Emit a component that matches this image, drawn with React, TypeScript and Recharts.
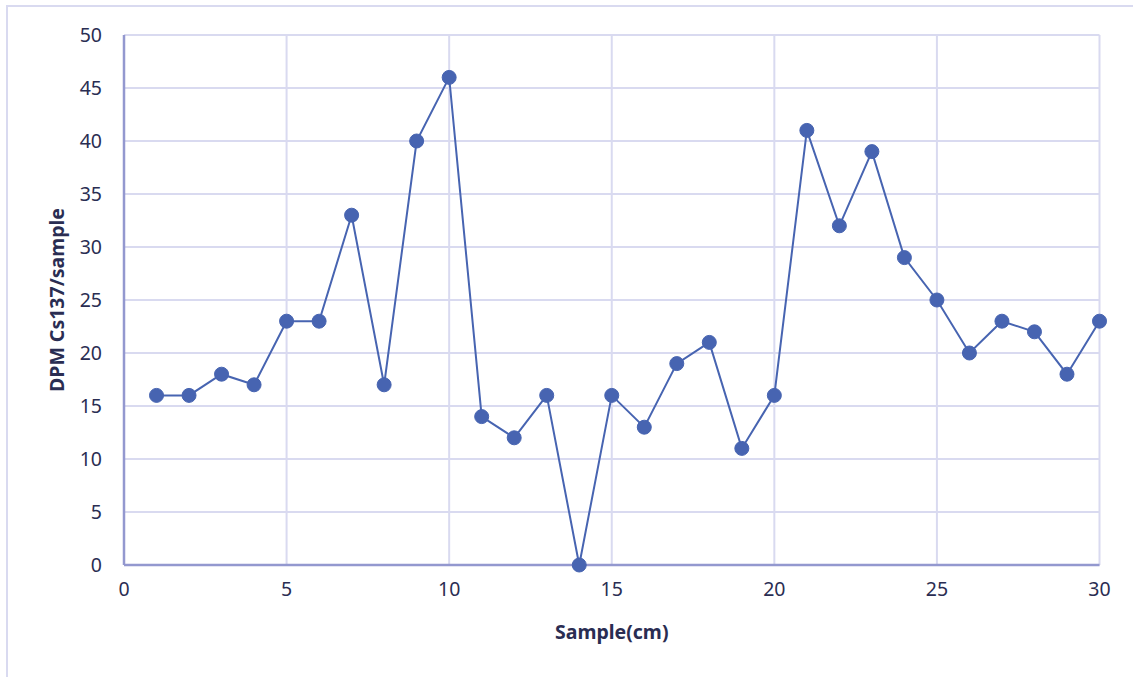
import { CartesianGrid, Label, Line, LineChart, XAxis, YAxis } from 'recharts'

const samples = [1, 2, 3, 4, 5, 6, 7, 8, 9, 10, 11, 12, 13, 14, 15, 16, 17, 18, 19, 20, 21, 22, 23, 24, 25, 26, 27, 28, 29, 30]
const dpm = [16, 16, 18, 17, 23, 23, 33, 17, 40, 46, 14, 12, 16, 0, 16, 13, 19, 21, 11, 16, 41, 32, 39, 29, 25, 20, 23, 22, 18, 23]
const xTicks = [0, 5, 10, 15, 20, 25, 30]
const yTicks = [0, 5, 10, 15, 20, 25, 30, 35, 40, 45, 50]

const data = samples.map((s, i) => ({ x: s, y: dpm[i] }))

const FONT = '"Noto Sans", sans-serif'
const TEXT = '#2a2d52'
const GRID = '#d9daf0'
const AXIS = '#9398cf'
const SERIES = '#4764b1'

export default function App() {
  return (
    <div style={{ position: 'absolute', left: 0, top: 0, width: 1133, height: 677, overflow: 'hidden', background: '#fff' }}>
      <div
        style={{
          position: 'absolute',
          left: 6,
          top: 5,
          width: 1300,
          height: 900,
          border: `2px solid ${GRID}`,
        }}
      />
      <div style={{ position: 'absolute', left: 0, top: 0 }}>
        <LineChart width={1133} height={677} data={data} margin={{ top: 35, right: 33.5, bottom: 72, left: 64 }}>
          <CartesianGrid stroke={GRID} strokeWidth={2} />
          <XAxis
            type="number"
            dataKey="x"
            domain={[0, 30]}
            ticks={xTicks}
            height={40}
            tickSize={0}
            tickMargin={17}
            stroke={AXIS}
            strokeWidth={2.5}
            tick={{ fill: TEXT, fontSize: 19.5, fontFamily: FONT }}
          >
            <Label
              value="Sample(cm)"
              position="bottom"
              offset={20}
              style={{ fill: TEXT, fontSize: 19.5, fontWeight: 700, fontFamily: FONT }}
            />
          </XAxis>
          <YAxis
            type="number"
            domain={[0, 50]}
            ticks={yTicks}
            width={60}
            tickSize={0}
            tickMargin={22}
            stroke={AXIS}
            strokeWidth={2.5}
            tick={{ fill: TEXT, fontSize: 19.5, fontFamily: FONT }}
          >
            <Label
              value="DPM Cs137/sample"
              angle={-90}
              position="left"
              offset={7}
              style={{ fill: TEXT, fontSize: 19.5, fontWeight: 700, fontFamily: FONT, textAnchor: 'middle' }}
            />
          </YAxis>
          <Line
            type="linear"
            dataKey="y"
            stroke={SERIES}
            strokeWidth={2}
            dot={{ r: 7, fill: SERIES, stroke: SERIES, strokeWidth: 1 }}
            isAnimationActive={false}
          />
        </LineChart>
      </div>
    </div>
  )
}
